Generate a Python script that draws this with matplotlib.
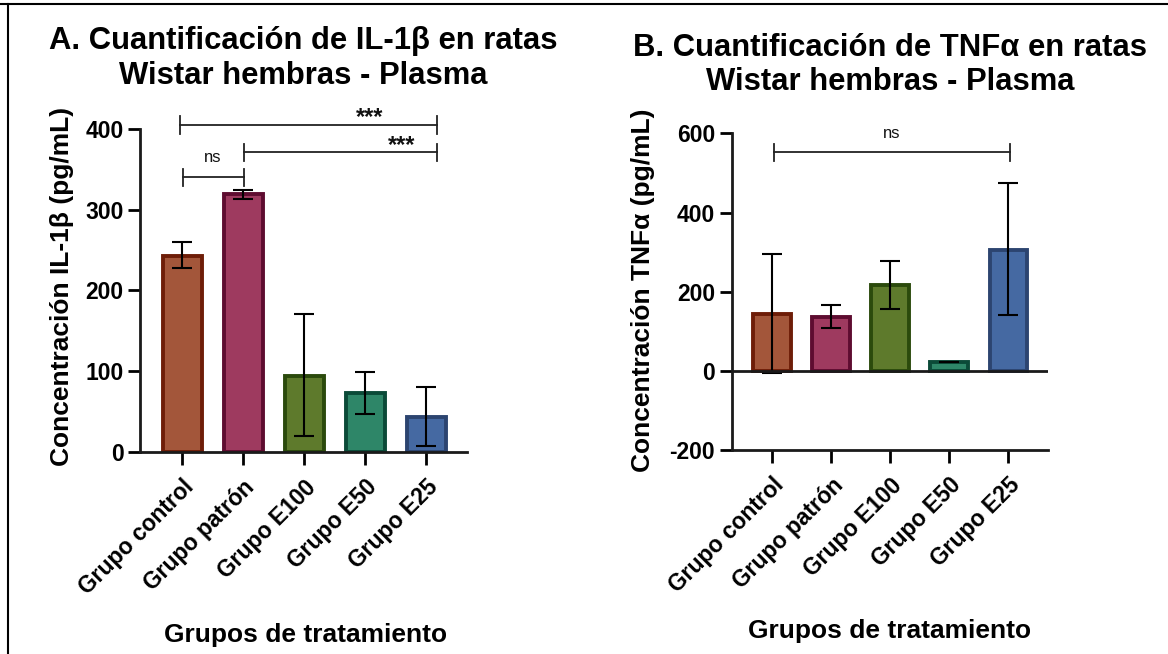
import matplotlib.pyplot as plt
from matplotlib.lines import Line2D

plt.rcParams['font.family'] = ['Liberation Sans', 'DejaVu Sans']
plt.rcParams['font.weight'] = 'bold'
plt.rcParams['axes.unicode_minus'] = False

grupos = ['Grupo control', 'Grupo patrón', 'Grupo E100', 'Grupo E50', 'Grupo E25']
fill_colors = ['#A3563A', '#9E3A5F', '#5E7A2C', '#2E8668', '#4569A2']
edge_colors = ['#6E1D08', '#5E0C30', '#2B4A0C', '#0B4A38', '#2C4470']

# IL-1b (pg/mL): media, error inferior, error superior
il1b_media = [243, 319, 94, 73, 43]
il1b_err_inf = [15, 6, 74, 26, 36]
il1b_err_sup = [17, 6, 77, 26, 38]

# TNFa (pg/mL)
tnf_media = [143, 137, 216, 23, 305]
tnf_err_inf = [149, 28, 60, 0, 164]
tnf_err_sup = [152, 30, 62, 0, 169]


def bracket(ax, x1, x2, y, h):
    ax.plot([x1, x2], [y, y], color='#222222', lw=1.3, clip_on=False)
    ax.plot([x1, x1], [y - h, y + h], color='#222222', lw=1.3, clip_on=False)
    ax.plot([x2, x2], [y - h, y + h], color='#222222', lw=1.3, clip_on=False)


def marca(ax, x, y, texto, size, peso):
    ax.text(x, y, texto, ha='center', va='baseline', fontsize=size, fontweight=peso,
            color='#111111', clip_on=False)


def draw_panel(ax, media, err_inf, err_sup):
    x = list(range(len(grupos)))
    ax.bar(x, media, width=0.64, color=fill_colors, edgecolor=edge_colors, linewidth=2.8, zorder=2)
    ax.errorbar(x, media, yerr=[err_inf, err_sup], fmt='none', ecolor='black',
                elinewidth=1.5, capsize=7, capthick=1.5, zorder=3)
    ax.set_xticks(x)
    ax.set_xticklabels(grupos, rotation=45, ha='right', rotation_mode='anchor', fontsize=16.5)
    ax.tick_params(axis='x', length=9, width=2, pad=8)
    ax.tick_params(axis='y', length=9, width=2, labelsize=16.5, pad=3)
    for s in ['top', 'right']:
        ax.spines[s].set_visible(False)
    for s in ['left', 'bottom']:
        ax.spines[s].set_linewidth(2)
        ax.spines[s].set_color('#1a1a1a')
    ax.set_xlim(-0.69, 4.67)
    ax.set_xlabel('Grupos de tratamiento', fontsize=19, fontweight='bold', va='center')


fig = plt.figure(figsize=(11.68, 6.54), dpi=100)

# Panel A
ax1 = fig.add_axes([0.1199, 0.3089, 0.28, 0.4939])
draw_panel(ax1, il1b_media, il1b_err_inf, il1b_err_sup)
ax1.set_ylim(0, 400)
ax1.set_yticks([0, 100, 200, 300, 400])
ax1.set_ylabel('Concentración IL-1β (pg/mL)', fontsize=19, fontweight='bold', va='center')
ax1.yaxis.set_label_coords(-0.2385, 0.514)
ax1.xaxis.set_label_coords(0.505, -0.567)
ax1.set_title('A. Cuantificación de IL-1β en ratas\nWistar hembras - Plasma',
              fontsize=22.3, fontweight='bold', pad=32.5)
bracket(ax1, -0.03, 4.175, 405, 11)
bracket(ax1, 1.01, 4.175, 371, 11)
bracket(ax1, 0.01, 1.01, 340, 11)
marca(ax1, 3.07, 406, '***', 17, 'bold')
marca(ax1, 3.6, 371.5, '***', 17, 'bold')
marca(ax1, 0.5, 358.7, 'ns', 12, 'normal')

# Panel B
ax2 = fig.add_axes([0.6264, 0.3119, 0.2708, 0.4842])
draw_panel(ax2, tnf_media, tnf_err_inf, tnf_err_sup)
ax2.set_ylim(-200, 600)
ax2.set_yticks([-200, 0, 200, 400, 600])
ax2.axhline(0, color='#1a1a1a', lw=2, zorder=4)
ax2.set_ylabel('Concentración TNFα (pg/mL)', fontsize=19, fontweight='bold', va='center')
ax2.yaxis.set_label_coords(-0.279, 0.505)
ax2.xaxis.set_label_coords(0.50, -0.572)
ax2.set_title('B. Cuantificación de TNFα en ratas\nWistar hembras - Plasma',
              fontsize=22.3, fontweight='bold', pad=31)
bracket(ax2, 0.03, 4.02, 552, 22)
marca(ax2, 2.02, 587.6, 'ns', 12, 'normal')

# marco de la figura
fig.add_artist(Line2D([0, 1], [0.994, 0.994], color='black', lw=1.5, transform=fig.transFigure))
fig.add_artist(Line2D([0.0068, 0.0068], [0, 0.994], color='black', lw=1.5, transform=fig.transFigure))

fig.savefig('out.png', dpi=100, facecolor='white')
